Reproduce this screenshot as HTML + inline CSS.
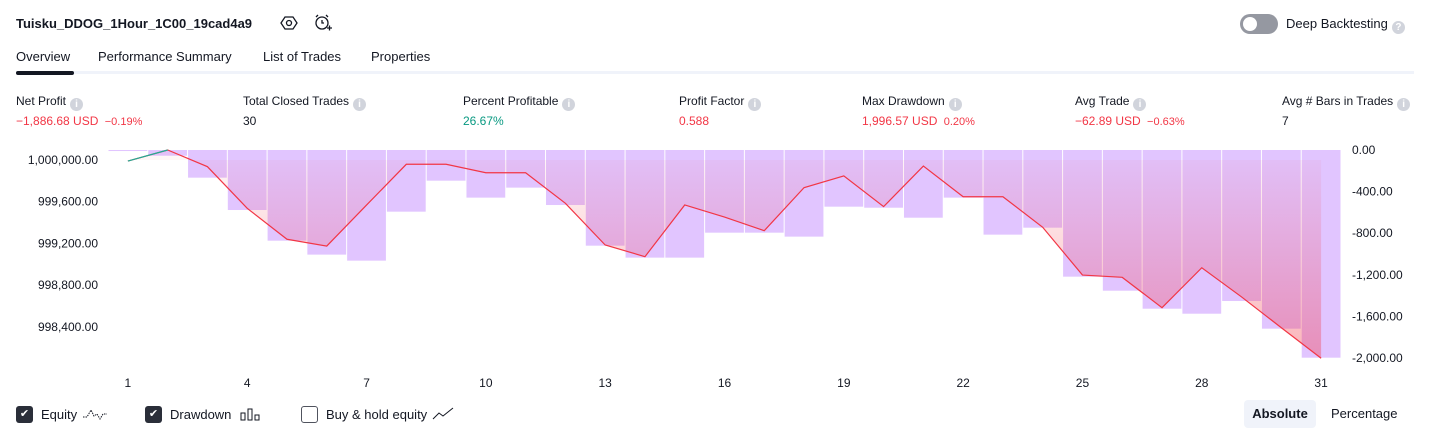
<!DOCTYPE html>
<html><head><meta charset="utf-8"><style>
body{margin:0;width:1431px;height:438px;background:#fff;font-family:"Liberation Sans",sans-serif;color:#131722;position:relative;overflow:hidden}
.a{position:absolute;white-space:nowrap}
.lbl{font-size:12px;color:#131722}
.val{font-size:12px}
.info{display:inline-block;width:13px;height:13px;border-radius:50%;background:#d1d4dc;color:#fff;font-size:10px;text-align:center;line-height:13px;vertical-align:-2px;margin-left:4px;font-weight:bold}
.red{color:#f23645}
.tab{font-size:13px;top:49px}
.row{display:flex;align-items:center;height:18px;font-size:13px;top:405px}
.cb{display:inline-block;width:17px;height:17px;border-radius:3px;margin-right:8px;box-sizing:border-box}
</style></head><body>
<div class="a" style="left:16px;top:16px;font-size:13px;font-weight:bold">Tuisku_DDOG_1Hour_1C00_19cad4a9</div>
<svg class="a" style="left:280px;top:14px" width="18" height="18"><polygon points="5,3 13,3 17,9 13,15 5,15 1,9" fill="none" stroke="#131722" stroke-width="1.3"/><circle cx="9" cy="9" r="2.5" fill="none" stroke="#131722" stroke-width="1.3"/></svg>
<svg class="a" style="left:313px;top:13px" width="20" height="20"><circle cx="9" cy="10" r="6" fill="none" stroke="#131722" stroke-width="1.3"/><path d="M9 7v3h2M3 4l2-2M15 4l-2-2M14 15h5M16.5 12.5v5" stroke="#131722" stroke-width="1.3" fill="none"/></svg>
<div class="a" style="left:1240px;top:14px;width:38px;height:20px;border-radius:10px;background:#9598a1"><div style="position:absolute;left:3px;top:3px;width:14px;height:14px;border-radius:50%;background:#fff"></div></div>
<div class="a" style="left:1286px;top:16px;font-size:13px">Deep Backtesting<span class="info">?</span></div>
<div class="a tab" style="left:16px">Overview</div>
<div class="a tab" style="left:98px">Performance Summary</div>
<div class="a tab" style="left:263px">List of Trades</div>
<div class="a tab" style="left:371px">Properties</div>
<div class="a" style="left:16px;top:71px;width:1398px;height:3px;background:#f0f3fa"></div>
<div class="a" style="left:16px;top:71px;width:58px;height:4px;border-radius:2px;background:#131722"></div>

<div class="a lbl" style="left:16px;top:94px">Net Profit<span class="info">i</span></div>
<div class="a val red" style="left:16px;top:114px">−1,886.68 USD <span style="font-size:11px;margin-left:3px">−0.19%</span></div>
<div class="a lbl" style="left:243px;top:94px">Total Closed Trades<span class="info">i</span></div>
<div class="a val" style="left:243px;top:114px">30</div>
<div class="a lbl" style="left:463px;top:94px">Percent Profitable<span class="info">i</span></div>
<div class="a val" style="left:463px;top:114px;color:#089981">26.67%</div>
<div class="a lbl" style="left:679px;top:94px">Profit Factor<span class="info">i</span></div>
<div class="a val red" style="left:679px;top:114px">0.588</div>
<div class="a lbl" style="left:862px;top:94px">Max Drawdown<span class="info">i</span></div>
<div class="a val red" style="left:862px;top:114px">1,996.57 USD <span style="font-size:11px;margin-left:3px">0.20%</span></div>
<div class="a lbl" style="left:1075px;top:94px">Avg Trade<span class="info">i</span></div>
<div class="a val red" style="left:1075px;top:114px">−62.89 USD <span style="font-size:11px;margin-left:3px">−0.63%</span></div>
<div class="a lbl" style="left:1282px;top:94px">Avg # Bars in Trades<span class="info">i</span></div>
<div class="a val" style="left:1282px;top:114px">7</div>

<svg class="a" id="chart" style="left:0;top:0" width="1431" height="400"></svg>

<div class="a row" style="left:16px"><span class="cb" style="background:#2a2e39;color:#fff;font-size:11px;text-align:center;line-height:17px">✔</span>Equity&nbsp;<svg width="28" height="14"><path d="M2 10h4l4-7 3 6 3-2 3 5 3-5h4" stroke="#131722" stroke-dasharray="1.5 1" fill="none"/></svg></div>
<div class="a row" style="left:145px"><span class="cb" style="background:#2a2e39;color:#fff;font-size:11px;text-align:center;line-height:17px">✔</span>Drawdown&nbsp;&nbsp;<svg width="22" height="14"><rect x="2" y="6" width="4" height="7" fill="none" stroke="#131722"/><rect x="9" y="2" width="4" height="11" fill="none" stroke="#131722"/><rect x="16" y="8" width="4" height="5" fill="none" stroke="#131722"/></svg></div>
<div class="a row" style="left:301px"><span class="cb" style="border:1px solid #50535e"></span>Buy &amp; hold equity&nbsp;<svg width="24" height="14"><path d="M2 12l6-6 4 3 10-8" stroke="#131722" fill="none"/></svg></div>
<div class="a" style="left:1244px;top:400px;width:72px;height:28px;border-radius:4px;background:#f0f3fa;font-size:13px;font-weight:bold;text-align:center;line-height:28px">Absolute</div>
<div class="a" style="left:1331px;top:406px;font-size:13px">Percentage</div>

<script>
const tradeNums=[1,2,3,4,5,6,7,8,9,10,11,12,13,14,15,16,17,18,19,20,21,22,23,24,25,26,27,28,29,30,31];
const equity=[999990,1000096,999936,999537,999240,999175,999568,999959,999959,999878,999878,999585,999185,999073,999569,999453,999322,999735,999847,999553,999942,999648,999648,999355,998897,998875,998584,998967,998687,998392,998099];
const drawdown=[-10,-55,-266,-577,-872,-1006,-1064,-593,-295,-458,-362,-529,-920,-1035,-1035,-795,-795,-833,-545,-555,-651,-458,-814,-747,-1218,-1353,-1526,-1574,-1452,-1718,-1997];
const xTicks=[1,4,7,10,13,16,19,22,25,28,31];
const leftTicks=[1000000,999600,999200,998800,998400];
const rightTicks=[0,-400,-800,-1200,-1600,-2000];
const baseCapital=1000000;
const svg=document.getElementById('chart');
const NS='http://www.w3.org/2000/svg';
const x0=108,x1=1341,n=tradeNums.length,step=(x1-x0)/n;
const xC=i=>x0+step*(i-0.5);
const yE=v=>160-(v-1000000)*0.1043;
const yD=v=>150-v*0.104;
function mk(t,attrs){const e=document.createElementNS(NS,t);for(const k in attrs)e.setAttribute(k,attrs[k]);svg.appendChild(e);return e;}
const defs=mk('defs',{});
defs.innerHTML='<linearGradient id="pg" gradientUnits="userSpaceOnUse" x1="0" y1="150" x2="0" y2="360"><stop offset="0" stop-color="#f23645" stop-opacity="0.03"/><stop offset="1" stop-color="#f23645" stop-opacity="0.38"/></linearGradient>';
drawdown.forEach((d,i)=>{
 const r=mk('rect',{x:x0+step*i+0.5,y:150,width:step-1,height:Math.max(1,yD(d)-150),fill:'#e1c5ff'});
 
 
});
const base=yE(baseCapital);
let pts=equity.map((v,i)=>[xC(tradeNums[i]),yE(v)]);
let area='M'+pts[0][0]+','+base+' '+pts.map(p=>'L'+p[0]+','+p[1]).join(' ')+' L'+pts[n-1][0]+','+base+'Z';
const ar=mk('path',{d:area,fill:'url(#pg)'});


const ln=mk('polyline',{points:pts.map(p=>p.join(',')).join(' '),fill:'none',stroke:'#f23645','stroke-width':1.2});


const g=mk('polyline',{points:pts.slice(0,2).map(p=>p.join(',')).join(' '),fill:'none',stroke:'#22ab94','stroke-width':1.2});


xTicks.forEach(t=>{const e=mk('text',{x:xC(t),y:387,'text-anchor':'middle','font-size':12,fill:'#131722'});e.textContent=t;

});
leftTicks.forEach(t=>{const e=mk('text',{x:98,y:yE(t)+4,'text-anchor':'end','font-size':12,fill:'#131722'});e.textContent=t.toLocaleString('en-US',{minimumFractionDigits:2});

});
rightTicks.forEach(t=>{const e=mk('text',{x:1352,y:yD(t)+4,'font-size':12,fill:'#131722'});e.textContent=(t<0?'-':'')+Math.abs(t).toLocaleString('en-US',{minimumFractionDigits:2});

});
</script>
</body></html>
